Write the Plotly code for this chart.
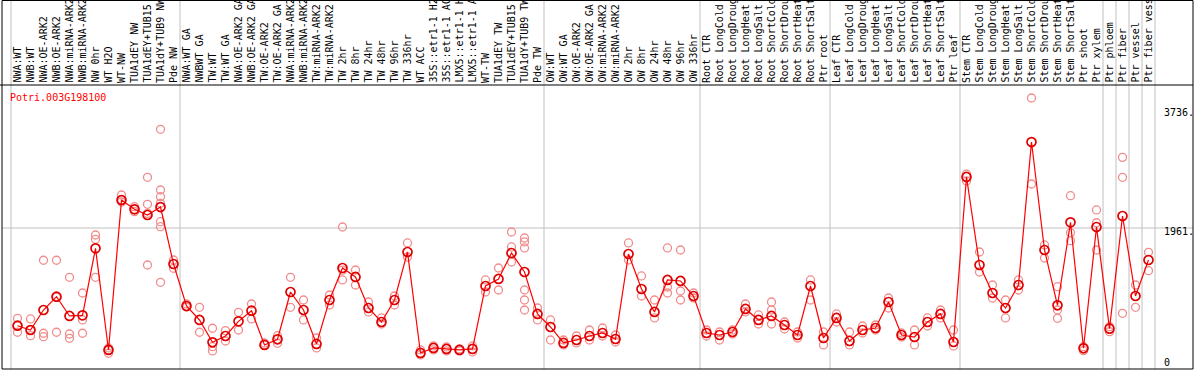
import plotly.graph_objects as go

gene = "Potri.003G198100"

samples = [
    "NWA:WT", "NWB:WT", "NWA:OE-ARK2", "NWB:OE-ARK2", "NWA:miRNA-ARK2", "NWB:miRNA-ARK2",
    "NW 0hr", "WT H2O", "WT-NW", "TUA1dEY NW", "TUA1dEY+TUB15", "TUA1dY+TUB9 NW", "Pde NW",
    "NWA:WT GA", "NWBWT GA", "TW:WT", "TW:WT GA", "NWA:OE-ARK2 GA", "NWB:OE-ARK2 GA",
    "TW:OE-ARK2", "TW:OE-ARK2 GA", "NWA:miRNA-ARK2", "NWB:miRNA-ARK2", "TW:miRNA-ARK2",
    "TW:miRNA-ARK2", "TW 2hr", "TW 8hr", "TW 24hr", "TW 48hr", "TW 96hr", "TW 336hr",
    "WT ACC", "35S::etr1-1 H2O", "35S::etr1-1 ACC", "LMX5::etr1-1 H2O", "LMX5::etr1-1 ACC",
    "WT-TW", "TUA1dEY TW", "TUA1dEY+TUB15", "TUA1dY+TUB9 TW", "Pde TW",
    "OW:WT", "OW:WT GA", "OW:OE-ARK2", "OW:OE-ARK2 GA", "OW:miRNA-ARK2", "OW:miRNA-ARK2",
    "OW 2hr", "OW 8hr", "OW 24hr", "OW 48hr", "OW 96hr", "OW 336hr",
    "Root CTR", "Root LongCold", "Root LongDrought", "Root LongHeat", "Root LongSalt",
    "Root ShortCold", "Root ShortDrought", "Root ShortHeat", "Root ShortSalt", "Ptr root",
    "Leaf CTR", "Leaf LongCold", "Leaf LongDrought", "Leaf LongHeat", "Leaf LongSalt",
    "Leaf ShortCold", "Leaf ShortDrought", "Leaf ShortHeat", "Leaf ShortSalt", "Ptr leaf",
    "Stem CTR", "Stem LongCold", "Stem LongDrought", "Stem LongHeat", "Stem LongSalt",
    "Stem ShortCold", "Stem ShortDrought", "Stem ShortHeat", "Stem ShortSalt", "Ptr shoot",
    "Ptr xylem", "Ptr phloem", "Ptr fiber", "Ptr vessel", "Ptr fiber vessel",
]

means = [
    498, 434, 733, 933, 644, 654, 1657, 135, 2380, 2241, 2156, 2275, 1422,
    793, 584, 250, 344, 564, 723, 210, 295, 1003, 733, 225, 883, 1362, 1228, 763,
    554, 883, 1602, 90, 165, 150, 135, 150, 1093, 1198, 1587, 1302, 674,
    479, 240, 284, 344, 389, 299, 1572, 1048, 704, 1183, 1168, 943,
    389, 359, 404, 749, 584, 644, 509, 359, 1093, 314,
    614, 269, 434, 464, 853, 359, 329, 554, 674, 254,
    2725, 1407, 988, 763, 1108, 3248, 1632, 804, 2046, 160, 1976,
    454, 2141, 943, 1482,
]

replicates = [
    [609, 498, 400], [599, 434, 349], [1478, 385, 334], [1478, 921, 400],
    [1223, 374, 310], [988, 584, 385], [1856, 1792, 1223], [165, 135, 85],
    [2455, 2380, 2350], [2280, 2241, 2205], [2720, 2316, 2180, 1407],
    [3439, 2530, 2430, 2331, 2055, 1981, 1148], [1482, 1358],
    [823, 778], [774, 400], [460, 184, 120], [424, 269], [699, 434], [823, 599],
    [240, 210], [349, 235], [1223, 774], [883, 584], [314, 165], [958, 808],
    [1976, 1330, 1183], [1332, 1108], [853, 704], [614, 524], [943, 808],
    [1737, 1527], [135, 60], [195, 135], [180, 120], [150, 120], [195, 105],
    [1183, 1003], [1362, 1033], [1901, 1677, 1452],
    [1811, 1752, 1662, 1033, 883, 733], [763, 584],
    [584, 284], [284, 210], [344, 240], [434, 284], [464, 344], [359, 254],
    [1737, 1482], [1243, 943], [883, 614], [1662, 1078, 988], [1632, 1018, 883],
    [988, 913],
    [434, 344], [404, 284], [434, 374], [823, 704], [659, 524], [853, 733, 524],
    [554, 449], [404, 314], [1183, 883], [404, 210],
    [674, 554], [404, 210], [494, 389], [509, 434], [913, 763], [389, 329],
    [434, 210], [614, 494], [733, 614], [434, 195],
    [2769, 2665], [1602, 1302], [1108, 913], [883, 614], [1183, 1033],
    [3907, 2620], [1707, 1512], [1082, 733, 609], [2445, 1891, 1771], [184, 124],
    [2231, 2040, 1632], [484, 409], [3019, 2720, 684], [1108, 774], [1597, 1322],
]

group_bounds = [-0.5, 12.5, 40.5, 52.5, 62.5, 72.5, 83.5, 84.5, 85.5, 86.5, 87.5]
ytick_vals = [0, 1961, 3736]
ytick_text = ["0", "1961.", "3736."]

W, H = 1194, 370
L, R, T, B = 2, 1, 85, 1
PW, PH = W - L - R, H - T - B


def px(xp):
    return (xp - L) / PW


def py(yp):
    return (H - B - yp) / PH


FONT = "DejaVu Sans Mono"
xs = list(range(len(samples)))
rx, ry = [], []
for i, reps in enumerate(replicates):
    for v in reps:
        rx.append(i)
        ry.append(v)

fig = go.Figure()
fig.add_trace(go.Scatter(
    x=rx, y=ry, mode="markers", hoverinfo="skip",
    marker=dict(symbol="circle-open", size=8, color="rgb(240,140,140)",
                line=dict(width=1.3)),
))
fig.add_trace(go.Scatter(
    x=xs, y=means, mode="lines+markers",
    line=dict(color="#ff0000", width=1.2),
    marker=dict(symbol="circle-open", size=9, color="#e00000",
                line=dict(width=1.7)),
))

shapes = []
for b in group_bounds:
    shapes.append(dict(type="line", xref="x", yref="paper", x0=b, x1=b,
                       y0=0, y1=py(0), line=dict(color="#c0c0c0", width=1),
                       layer="below"))
shapes.append(dict(type="line", xref="paper", yref="y", x0=0, x1=1,
                   y0=1961, y1=1961, line=dict(color="#c0c0c0", width=1),
                   layer="below"))
# borders
shapes.append(dict(type="line", xref="paper", yref="paper", x0=px(0), x1=1,
                   y0=1, y1=1, line=dict(color="black", width=1)))
shapes.append(dict(type="rect", xref="paper", yref="paper", x0=px(2), x1=px(1193),
                   y0=py(369), y1=py(0.5), line=dict(color="black", width=1)))

annotations = []
for i, s in enumerate(samples):
    annotations.append(dict(
        x=i, y=py(84), xref="x", yref="paper", text=s, textangle=-90,
        showarrow=False, xanchor="center", yanchor="bottom",
        font=dict(family=FONT, size=10, color="black"), borderpad=0,
    ))
for v, t in zip(ytick_vals, ytick_text):
    annotations.append(dict(
        x=px(1163), y=v, xref="paper", yref="y", text=t, showarrow=False,
        xanchor="left", yanchor="top", yshift=3,
        font=dict(family=FONT, size=10, color="black"), borderpad=0,
    ))
annotations.append(dict(
    x=px(8), y=py(97), xref="paper", yref="paper", text=gene, showarrow=False,
    xanchor="left", yanchor="middle", font=dict(family=FONT, size=10, color="#ff0000"),
))

fig.update_layout(
    width=W, height=H, margin=dict(l=L, r=R, t=T, b=B),
    paper_bgcolor="white", plot_bgcolor="white", showlegend=False,
    xaxis=dict(range=[-1.1923, 90.4231], visible=False, showgrid=False),
    yaxis=dict(range=[-150, 4102], visible=False, showgrid=False),
    shapes=shapes, annotations=annotations,
)
fig.write_html(
    "out.html",
    config={"displayModeBar": False},
    post_script="document.body.style.margin='0';document.body.style.overflow='hidden';",
)
